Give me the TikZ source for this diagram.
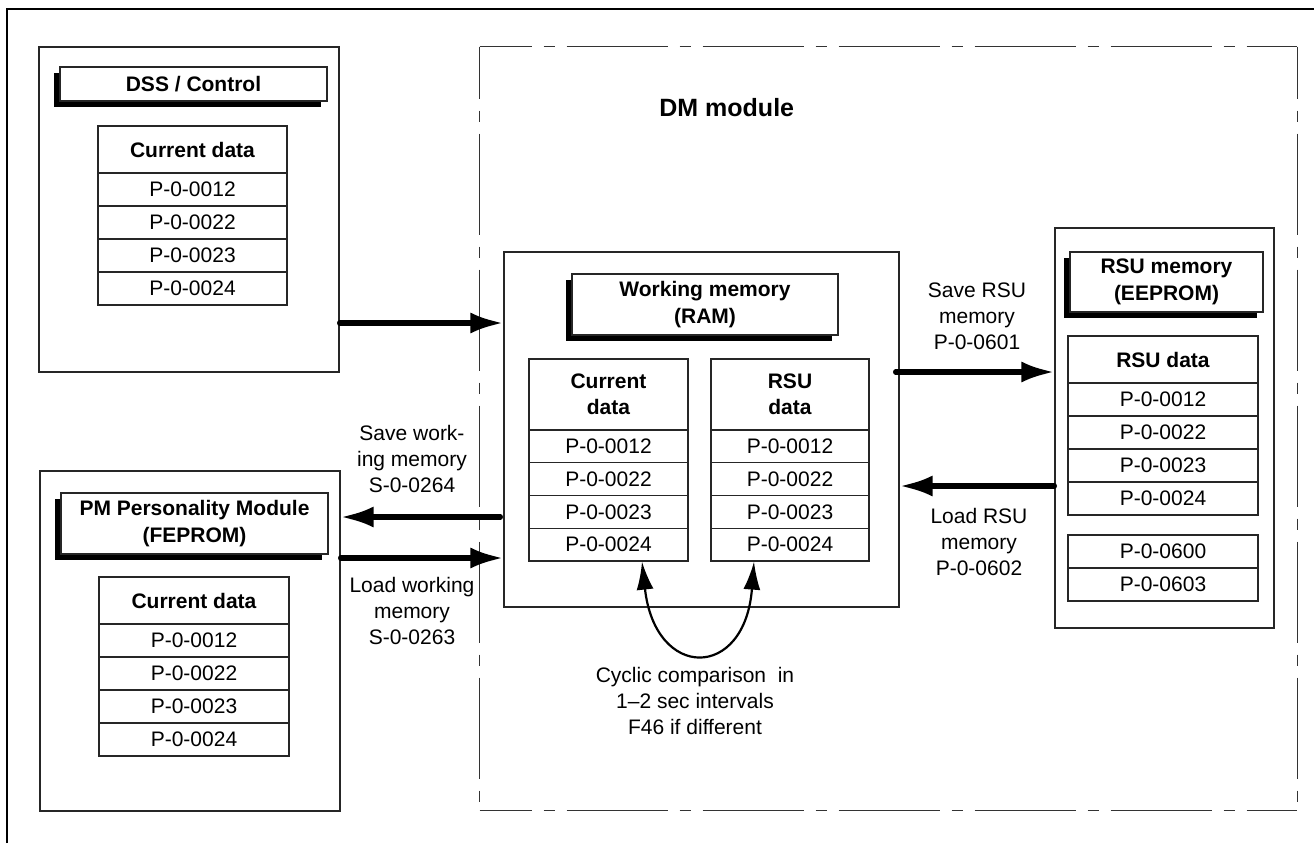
\documentclass[tikz,border=0pt]{standalone}
\usepackage{fontspec}
\setmainfont{Liberation Sans}
\usetikzlibrary{arrows.meta,shadows}

\begin{document}
\begin{tikzpicture}[x=0.5pt,y=-0.5pt,
  boxline/.style={draw=black!85, line width=0.6pt},
  plainbox/.style={boxline, rectangle, inner sep=0pt},
  datacell/.style={plainbox, font=\fontsize{10.5}{13}\selectfont},
  datahead/.style={plainbox, align=center, font=\bfseries\fontsize{10.5}{13}\selectfont},
  titlebox/.style={plainbox, fill=white, align=center,
    font=\bfseries\fontsize{10.5}{13.5}\selectfont,
    drop shadow={shadow xshift=-3pt, shadow yshift=-2.75pt, fill=black, opacity=1}},
  note/.style={align=center, inner sep=0pt, font=\fontsize{10.5}{13}\selectfont},
  dmframe/.style={draw=black!80, line width=0.55pt,
    dash pattern=on 50.5pt off 6pt on 5.5pt off 6pt, dash phase=24.5pt},
  bigarrow/.style={draw=black, line width=2.6pt, line cap=round,
    -{Latex[length=16.5pt,width=10.5pt]}},
  cmparrow/.style={draw=black, line width=1.1pt,
    {Latex[length=14pt,width=8.5pt]}-{Latex[length=14pt,width=8.5pt]}}
]
\useasboundingbox (0,0) rectangle (1314,843);

% outer frame (left and top edges only)
\draw[line width=0.6pt] (7,843) -- (7,9) -- (1314,9);

% ---------------- DSS / Control ----------------
\node[plainbox, minimum width=150pt, minimum height=162.5pt] (dss) at (189,209.5) {};
\node[titlebox, minimum width=133.5pt, minimum height=17pt] (dss-t) at (193.5,84) {DSS / Control};
\node[datahead, minimum width=94.5pt, minimum height=23.5pt] (dss-h) at (192.5,149.5) {Current data};
\foreach \p [count=\i] in {0012,0022,0023,0024}
  \node[datacell, minimum width=94.5pt, minimum height=16.5pt] (dss-\i) at (192.5,{156.5+33*\i}) {P-0-\p};

% ---------------- PM Personality Module ----------------
\node[plainbox, minimum width=150pt, minimum height=170pt] (pm) at (190,641) {};
\node[titlebox, minimum width=133.5pt, minimum height=30.5pt] (pm-t) at (194.5,523.5) {PM Personality Module\\(FEPROM)};
\node[datahead, minimum width=95pt, minimum height=23.5pt] (pm-h) at (194,600.5) {Current data};
\foreach \p [count=\i] in {0012,0022,0023,0024}
  \node[datacell, minimum width=95pt, minimum height=16.5pt] (pm-\i) at (194,{607.5+33*\i}) {P-0-\p};

% ---------------- DM module (dash-dot frame) ----------------
\node[inner sep=0pt, minimum width=408.5pt, minimum height=381.5pt] (dm) at (888.5,428.5) {};
\draw[dmframe] (dm.north west) -- (dm.north east);
\draw[dmframe] (dm.north east) -- (dm.south east);
\draw[dmframe] (dm.south west) -- (dm.south east);
\draw[dmframe] (dm.north west) -- (dm.south west);
\node[anchor=west, inner sep=0pt, font=\bfseries\fontsize{12.5}{15}\selectfont] (dm-t) at (659,108) {DM module};

% working memory
\node[plainbox, minimum width=197.5pt, minimum height=177.5pt] (wm) at (701.5,429.5) {};
\node[titlebox, minimum width=133pt, minimum height=30.5pt] (wm-t) at (705,304.5) {Working memory\\(RAM)};
\node[datahead, minimum width=79.5pt, minimum height=35.5pt] (wmc-h) at (608.5,394.5) {Current\\data};
\node[datahead, minimum width=79pt, minimum height=35.5pt] (wmr-h) at (790,394.5) {RSU\\data};
\foreach \p [count=\i] in {0012,0022,0023,0024}{
  \node[datacell, minimum width=79.5pt, minimum height=16.375pt] (wmc-\i) at (608.5,{413.625+32.75*\i}) {P-0-\p};
  \node[datacell, minimum width=79pt, minimum height=16.375pt] (wmr-\i) at (790,{413.625+32.75*\i}) {P-0-\p};
}

% RSU memory
\node[plainbox, minimum width=109.5pt, minimum height=200pt] (rsu) at (1164.5,428) {};
\node[titlebox, minimum width=96.5pt, minimum height=30pt] (rsu-t) at (1166.5,282) {RSU memory\\(EEPROM)};
\node[datahead, minimum width=95pt, minimum height=23.5pt] (rsu-h) at (1163,359.5) {RSU data};
\foreach \p [count=\i] in {0012,0022,0023,0024}
  \node[datacell, minimum width=95pt, minimum height=16.5pt] (rsu-\i) at (1163,{366.5+33*\i}) {P-0-\p};
\node[datacell, minimum width=95pt, minimum height=16.5pt] (rsu-a) at (1163,551.5) {P-0-0600};
\node[datacell, minimum width=95pt, minimum height=16.5pt] (rsu-b) at (1163,584.5) {P-0-0603};

% ---------------- transfer arrows ----------------
\coordinate (lv-dss) at (0,323);
\coordinate (lv-save) at (0,517);
\coordinate (lv-load) at (0,558);
\coordinate (lv-rsusave) at (0,372);
\coordinate (lv-rsuload) at (0,486);

\draw[bigarrow] (dss.east |- lv-dss) -- (wm.west |- lv-dss);
\draw[bigarrow] ([xshift=-1.5pt]wm.west |- lv-save) -- (pm.east |- lv-save);
\draw[bigarrow] (pm.east |- lv-load) -- (wm.west |- lv-load);
\draw[bigarrow] ([xshift=-2pt]wm.east |- lv-rsusave) -- (rsu.west |- lv-rsusave);
\draw[bigarrow] (rsu.west |- lv-rsuload) -- (wm.east |- lv-rsuload);

\node[note] (save-wm) at (412,459) {Save work-\\ing memory\\S-0-0264};
\node[note] (load-wm) at (412,611) {Load working\\memory\\S-0-0263};
\node[note] (save-rsu) at (977,316) {Save RSU\\memory\\P-0-0601};
\node[note] (load-rsu) at (979,542) {Load RSU\\memory\\P-0-0602};

% cyclic comparison between the two data sets
\draw[cmparrow] ([xshift=16.75pt]wmc-4.south) .. controls +(13,119) and +(-9,119) .. ([xshift=-18pt]wmr-4.south);
\node[note] (cmp) at (695,701) {Cyclic comparison\ \ in\\1--2 sec intervals\\F46 if different};
\end{tikzpicture}
\end{document}
